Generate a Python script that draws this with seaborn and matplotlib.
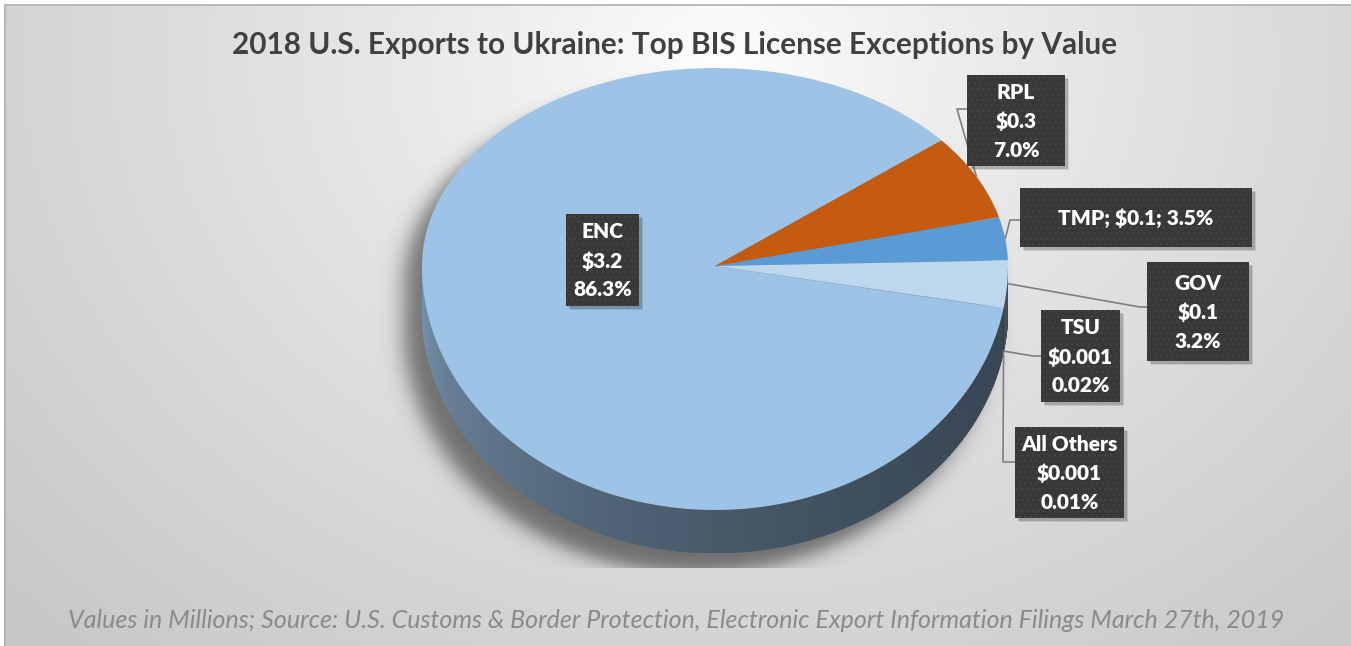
import numpy as np
import matplotlib
matplotlib.use("Agg")
import matplotlib.pyplot as plt
import seaborn as sns
from matplotlib.patches import Rectangle
from matplotlib.collections import PolyCollection
from matplotlib.colors import to_rgb

# ---------------- data ----------------
categories = ["ENC", "RPL", "TMP", "GOV", "TSU", "All Others"]
value_labels = ["$3.2", "$0.3", "$0.1", "$0.1", "$0.001", "$0.001"]
shares = [86.3, 7.0, 3.5, 3.2, 0.02, 0.01]
pct_labels = ["86.3%", "7.0%", "3.5%", "3.2%", "0.02%", "0.01%"]
slice_colors = ["#9DC3E6", "#C55A11", "#5B9BD5", "#BDD7EE", "#A9C7E6", "#8FAADC"]

title = "2018 U.S. Exports to Ukraine: Top BIS License Exceptions by Value"
footer = ("Values in Millions; Source: U.S. Customs & Border Protection, "
          "Electronic Export Information Filings March 27th, 2019")

# ---------------- style ----------------
sns.set_theme(style="white")
plt.rcParams["font.family"] = ["Lato", "DejaVu Sans"]
plt.rcParams["hatch.linewidth"] = 0.8

W, H = 1351, 646
fig = plt.figure(figsize=(W / 100, H / 100), dpi=100)
fig.patch.set_facecolor("white")

# ---------------- background (pixel coordinates) ----------------
bg = fig.add_axes([0, 0, 1, 1])
bg.set_xlim(0, W)
bg.set_ylim(H, 0)
bg.axis("off")
yy, xx = np.mgrid[0:H, 0:W] + 0.5
dist = np.sqrt(((xx - 720) / 760) ** 2 + ((yy - 60) / 620) ** 2)
gval = (255 - 45 * np.minimum(dist, 1.3) ** 0.8) / 255
bg.imshow(np.dstack([gval, gval, gval]), extent=(4, W, H, 4), aspect="auto",
          interpolation="bilinear", zorder=0)
bg.plot([4.5, 4.5, W], [H, 4.5, 4.5], color="#b5b5b5", lw=1.3, zorder=1,
        solid_joinstyle="round")

# pie geometry (pixels)
cx, apex_y = 715, 266
rx, ry_far, ry_near, depth_px = 293, 198, 244, 43

# soft shadow of pie silhouette
sx, sy = -18, 20
u = (xx - cx - sx) / rx
v = yy - (apex_y + sy)
vv = np.where(v < 0, v / ry_far, np.maximum(0, v - depth_px) / ry_near)
r = np.sqrt(u ** 2 + vv ** 2)
sd = (r - 1) * 250
alpha = 0.5 * 0.5 * (1 - np.tanh(sd / 11))
alpha[yy >= 568] = 0
shadow = np.zeros((H, W, 4))
shadow[..., 3] = alpha
bg.imshow(shadow, extent=(0, W, H, 0), aspect="auto", interpolation="bilinear", zorder=2)

# ---------------- pie axes ----------------
d_units = depth_px / ry_near
top_px = apex_y - ry_far
bot_px = apex_y + ry_near + depth_px
ax = fig.add_axes([(cx - rx) / W, 1 - bot_px / H, 2 * rx / W, (bot_px - top_px) / H])


def fwd(y):
    y = np.asarray(y, dtype=float)
    return np.where(y >= 0, y * ry_far, y * ry_near)


def inv(y):
    y = np.asarray(y, dtype=float)
    return np.where(y >= 0, y / ry_far, y / ry_near)


wedges, _ = ax.pie(shares, colors=slice_colors, startangle=-10, counterclock=False,
                   wedgeprops=dict(linewidth=0), frame=False)
ax.set_aspect("auto")
ax.set_yscale("function", functions=(fwd, inv))
ax.set_xlim(-1, 1)
ax.set_ylim(-1 - d_units, 1)
ax.axis("off")
ax.patch.set_alpha(0)

# 3D side of the pie (visible bottom half), built from wedge angles
quads, qcols = [], []
for w, col in zip(wedges, slice_colors):
    t1, t2 = w.theta1, w.theta2
    base = np.array(to_rgb(col))
    for k in (-2, -1, 0, 1):
        a, b = max(t1, 180 + 360 * k), min(t2, 360 + 360 * k)
        if b <= a:
            continue
        n = max(2, int((b - a) / 0.5))
        th = np.radians(np.linspace(a, b, n + 1))
        for i in range(n):
            c0, s0 = np.cos(th[i]), np.sin(th[i])
            c1, s1 = np.cos(th[i + 1]), np.sin(th[i + 1])
            quads.append([(c0, s0), (c1, s1), (c1, s1 - d_units), (c0, s0 - d_units)])
            m = np.degrees(0.5 * (th[i] + th[i + 1])) % 360
            shade = 0.36 + 0.40 * ((360 - m) / 180) ** 2
            qcols.append(np.clip(base * shade, 0, 1))
side = PolyCollection(quads, facecolors=qcols, edgecolors=qcols, linewidths=0.6, zorder=0.5)
ax.add_collection(side)

# ---------------- overlay: labels, leaders, titles ----------------
ov = fig.add_axes([0, 0, 1, 1])
ov.set_xlim(0, W)
ov.set_ylim(H, 0)
ov.axis("off")
ov.patch.set_alpha(0)

layout = {
    "ENC": dict(box=(566, 214, 639, 306), elbow=None, anchor="top", inline=False),
    "RPL": dict(box=(967, 75, 1065, 166), elbow=(957, 109), anchor="top", inline=False),
    "TMP": dict(box=(1020, 188, 1252, 247), elbow=(1010, 220), anchor="top", inline=True),
    "GOV": dict(box=(1147, 262, 1249, 361), elbow=(1140, 307), anchor="top", inline=False),
    "TSU": dict(box=(1041, 310, 1120, 402), elbow=(1033, 356), anchor="side", inline=False),
    "All Others": dict(box=(1015, 427, 1124, 518), elbow=(1003, 462), anchor="side", inline=False),
}

for w, cat, val, pct in zip(wedges, categories, value_labels, pct_labels):
    lay = layout[cat]
    x0, y0, x1, y1 = lay["box"]
    if lay["elbow"] is not None:
        mid = np.radians(0.5 * (w.theta1 + w.theta2))
        yd = np.sin(mid) - (d_units if lay["anchor"] == "side" else 0)
        px, py = ax.transData.transform((np.cos(mid), yd))
        py = H - py
        ex, ey = lay["elbow"]
        ov.plot([px, ex, x0], [py, ey, ey], color="#7f7f7f", lw=1.2, zorder=2,
                solid_capstyle="butt")
    for off, al in ((4, 0.10), (2.5, 0.16)):
        ov.add_patch(Rectangle((x0 + off, y0 + off), x1 - x0, y1 - y0, facecolor="black",
                               alpha=al, linewidth=0, zorder=3))
    ov.add_patch(Rectangle((x0, y0), x1 - x0, y1 - y0, facecolor="#383838",
                           edgecolor="#454545", hatch="...", linewidth=0, zorder=4))
    txt = f"{cat}; {val}; {pct}" if lay["inline"] else f"{cat}\n{val}\n{pct}"
    ov.text((x0 + x1) / 2, (y0 + y1) / 2 + 1, txt, ha="center", va="center",
            color="white", fontsize=15, fontweight="heavy", linespacing=1.6,
            multialignment="center", zorder=5)

renderer = fig.canvas.get_renderer()


def fit_width(t, target):
    for _ in range(3):
        wpx = t.get_window_extent(renderer).width
        t.set_fontsize(t.get_fontsize() * target / wpx)


t_title = ov.text(675, 45, title, ha="center", va="center", fontsize=17,
                  fontweight="bold", color="#404040", zorder=5)
fit_width(t_title, 885)
t_foot = ov.text(676, 621, footer, ha="center", va="center", fontsize=14,
                 style="italic", color="#8a8a8a", zorder=5)
fit_width(t_foot, 1213)

fig.savefig("out.png", dpi=100)
